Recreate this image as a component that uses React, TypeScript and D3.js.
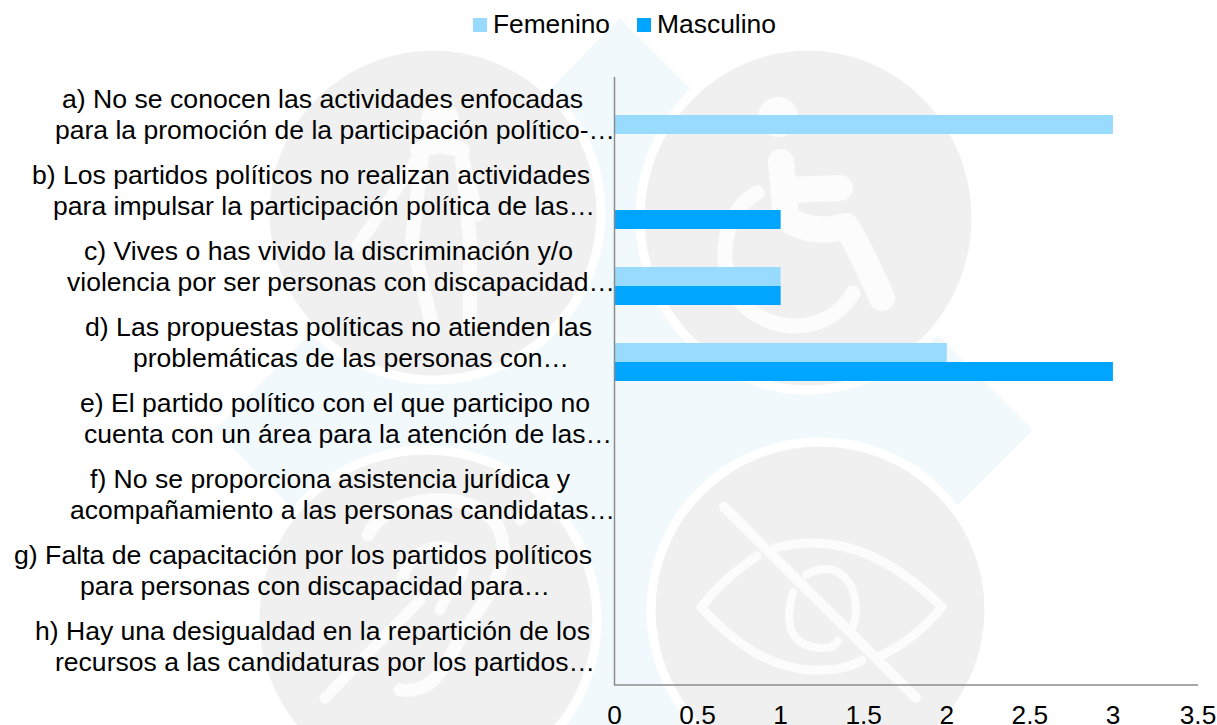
import React from "react";
import * as d3 from "d3";

const categories = ["a", "b", "c", "d", "e", "f", "g", "h"];
const femenino = [3, 0, 1, 2, 0, 0, 0, 0];
const masculino = [0, 1, 1, 3, 0, 0, 0, 0];
const xTicks = [0, 0.5, 1, 1.5, 2, 2.5, 3, 3.5];
const seriesSlots = ["empty1", "empty2", "Femenino", "Masculino"];

const labelLines = [
  ["a) No se conocen las actividades enfocadas", "para la promoción de la participación político-…"],
  ["b) Los partidos políticos no realizan actividades", "para impulsar la participación política de las…"],
  ["c) Vives o has vivido la discriminación y/o", "violencia por ser personas con discapacidad…"],
  ["d) Las propuestas políticas no atienden las", "problemáticas de las personas con…"],
  ["e) El partido político con el que participo no", "cuenta con un área para la atención de las…"],
  ["f) No se proporciona asistencia jurídica y", "acompañamiento a las personas candidatas…"],
  ["g) Falta de capacitación por los partidos políticos", "para personas con discapacidad para…"],
  ["h) Hay una desigualdad en la repartición de los", "recursos a las candidaturas por los partidos…"],
];
const labelSpans = [
  [[62, 583], [55, 615]],
  [[32, 590], [53, 595]],
  [[84, 573], [67, 615]],
  [[85, 592], [133, 569]],
  [[80, 590], [84, 612]],
  [[90, 570], [70, 615]],
  [[14, 592], [80, 550]],
  [[35, 590], [55, 595]],
];

const FEM = "#99DAFF";
const MASC = "#00A5FF";
const AXIS = "#8C8C8C";
const FONT = "'Liberation Sans', Arial, sans-serif";
const STRETCH = 1.05;

const x = d3.scaleLinear().domain([0, 3.5]).range([614.5, 1196]);
const y = d3.scaleBand().domain(categories).range([77, 685]);
const slot = d3.scaleBand().domain(seriesSlots).range([0, y.bandwidth()]);

function Watermark() {
  const gray = "#F0F0F0";
  const ws = { fill: "none", stroke: "#FCFCFC", strokeLinecap: "round" as const, strokeLinejoin: "round" as const };
  return (
    <g>
      <path d="M620 18 L1033 430 L620 842 L215 430 Z" fill="#F2F9FC" />
      <ellipse cx={433} cy={213} rx={168} ry={167} fill={gray} stroke="#fff" strokeWidth={9} />
      <ellipse cx={808} cy={218} rx={168} ry={172} fill={gray} stroke="#fff" strokeWidth={9} />
      <ellipse cx={426} cy={620} rx={171} ry={170} fill={gray} stroke="#fff" strokeWidth={9} />
      <ellipse cx={820} cy={610} rx={169} ry={168} fill={gray} stroke="#fff" strokeWidth={9} />
      {/* person with cane */}
      <g {...ws}>
        <circle cx={440} cy={120} r={19} fill="#FCFCFC" stroke="none" />
        <path d="M418 150 Q440 142 462 150" strokeWidth={16} />
        <path d="M420 155 L358 245" strokeWidth={12} />
        <path d="M462 155 L478 215" strokeWidth={12} />
        <path d="M422 155 L412 240 L432 325" strokeWidth={14} />
        <path d="M462 160 L470 240 L470 325" strokeWidth={14} />
      </g>
      {/* wheelchair */}
      <g {...ws}>
        <circle cx={778} cy={117} r={20} fill="#FCFCFC" stroke="none" />
        <path d="M781 162 L786 218 Q812 236 846 226 Q856 240 882 298" strokeWidth={26} />
        <path d="M786 190 L840 188" strokeWidth={26} />
        <path d="M757 193 C716 215 714 285 752 312 C790 338 835 325 853 293" strokeWidth={15} />
      </g>
      {/* crossed eye */}
      <g {...ws}>
        <path d="M757 556 Q724 578 701 607 Q760 672 819 670 Q845 671 862 660" strokeWidth={9} />
        <path d="M775 548 Q860 525 942 607 Q915 640 880 656" strokeWidth={9} />
        <path d="M793 592 C782 630 795 648 823 648 C831 648 836 645 838 641 M806 575 C835 558 856 580 856 610 C856 620 853 627 850 632" strokeWidth={8} />
        <path d="M724 507 L916 698" strokeWidth={10} />
      </g>
      {/* crossed ear */}
      <g {...ws}>
        <path d="M368 535 C385 495 470 485 497 525 C515 560 490 595 468 625 C448 655 440 695 400 690" strokeWidth={13} />
        <path d="M400 590 C405 545 450 535 462 560 C470 580 445 590 440 610" strokeWidth={11} />
        <path d="M325 698 L420 600" strokeWidth={11} />
        <path d="M520 520 L560 480" strokeWidth={11} />
      </g>
    </g>
  );
}

export default function App() {
  return (
    <svg
      width={1217}
      height={725}
      viewBox="0 0 1217 725"
      style={{ position: "absolute", left: 0, top: 0, display: "block", background: "#fff" }}
      fontFamily={FONT}
      fontSize={25}
      fill="#000"
    >
      <Watermark />

      {/* legend */}
      <rect x={473} y={18} width={14} height={14} fill={FEM} />
      <text x={493} y={33} textLength={117} lengthAdjust="spacingAndGlyphs">Femenino</text>
      <rect x={637} y={18} width={14} height={14} fill={MASC} />
      <text x={657} y={33} textLength={119} lengthAdjust="spacingAndGlyphs">Masculino</text>

      {/* bars */}
      {categories.map((c, i) => (
        <g key={c}>
          {femenino[i] > 0 && (
            <rect x={x(0)} y={y(c)! + slot("Femenino")!} width={x(femenino[i]) - x(0)} height={slot.bandwidth()} fill={FEM} />
          )}
          {masculino[i] > 0 && (
            <rect x={x(0)} y={y(c)! + slot("Masculino")!} width={x(masculino[i]) - x(0)} height={slot.bandwidth()} fill={MASC} />
          )}
        </g>
      ))}

      {/* axes */}
      <line x1={x(0)} x2={x(0)} y1={77} y2={685.5} stroke={AXIS} strokeWidth={1.5} />
      <line x1={x(0)} x2={1198} y1={685} y2={685} stroke={AXIS} strokeWidth={1.5} />

      {/* category labels */}
      {categories.map((c, i) =>
        labelLines[i].map((t, j) => (
          <text
            key={c + j}
            x={labelSpans[i][j][0]}
            y={y(c)! + 30.5 + j * 31}
            textLength={labelSpans[i][j][1] - labelSpans[i][j][0]}
            lengthAdjust="spacingAndGlyphs"
          >
            {t}
          </text>
        ))
      )}

      {/* value labels */}
      {xTicks.map((t) => (
        <text key={t} textAnchor="middle" transform={`translate(${x(t) + (t === 3.5 ? 2 : 0)},724) scale(${STRETCH},1)`}>
          {t}
        </text>
      ))}
    </svg>
  );
}
